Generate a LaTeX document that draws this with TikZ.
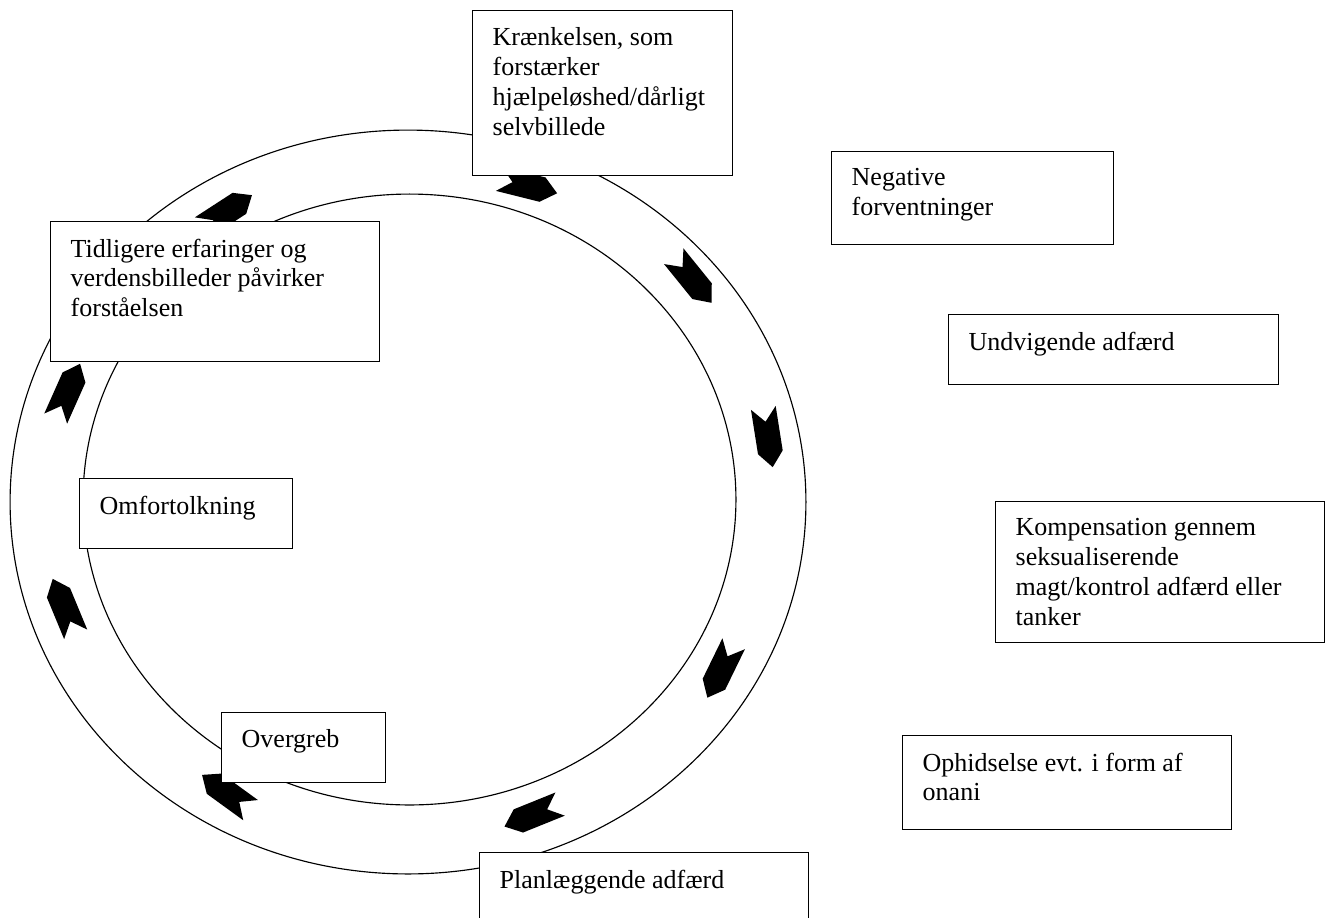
\documentclass[tikz,border=0pt]{standalone}
\usepackage{fontspec}
\setmainfont{Liberation Serif}
\usetikzlibrary{arrows.meta,positioning}

\begin{document}
\begin{tikzpicture}[
            x = 0.02cm, y = -0.02cm, % one unit = one pixel of the sketch
            ring/.style = {draw = black, line width = 0.65pt}, % the two ellipses
            chevron/.pic = {
                \fill[black] (-30,-12.5) -- (15,-12.5) -- (30,0) -- (15,12.5) -- (-30,12.5) -- (-16,0) -- cycle;
            }
        ]

        \tikzstyle{boks}=[
            draw = black,
            line width = 0.8pt,
            fill = white,
            anchor = north west,
            inner xsep = 0.4cm,
            inner ysep = 0.34cm,
            font = \fontsize{14.8pt}{17pt}\selectfont
        ]

        \useasboundingbox (0,0) rectangle (1327,917);
        \clip (0,0) rectangle (1327,917);

        % Ring
        \draw[ring] (408,502) ellipse [x radius = 7.96cm, y radius = 7.44cm];
        \draw[ring] (409.5,499.5) ellipse [x radius = 6.53cm, y radius = 6.11cm];

        % Arrows along the ring
        \pic[rotate = -14] at (528,186) {chevron};
        \pic[rotate = -51] at (692.6,279.5) {chevron};
        \pic[rotate = -81] at (768,437.5) {chevron};
        \pic[rotate = -116] at (720.5,670.7) {chevron};
        \pic[rotate = -158] at (532.3,815.3) {chevron};
        \pic[rotate = 144] at (226.3,792.5) {chevron};
        \pic[rotate = 112.5] at (64.2,606.6) {chevron};
        \pic[rotate = 66] at (67.9,391.2) {chevron};
        \pic[rotate = 33] at (226.8,211.5) {chevron};

        % Blocks
        \node[boks] (kraenk) [at={(472,10)}] {\parbox[t][2.62cm][t]{4.4cm}{Krænkelsen, som\\forstærker\\hjælpeløshed/dårligt\\selvbillede}};
        \node[boks] (neg) [at={(831,151)}] {\parbox[t][1.18cm][t]{4.84cm}{Negative\\forventninger}};
        \node[boks] (undv) [at={(948,314)}] {\parbox[t][0.72cm][t]{5.8cm}{Undvigende adfærd}};
        \node[boks] (komp) [at={(995,501)}] {\parbox[t][2.14cm][t]{5.78cm}{Kompensation gennem\\seksualiserende\\magt/kontrol adfærd eller\\tanker}};
        \node[boks] (ophid) [at={(902,735)}] {\parbox[t][1.2cm][t]{5.78cm}{Ophidselse evt. i form af\\onani}};
        \node[boks] (plan) [at={(479,852)}] {\parbox[t][0.92cm][t]{5.78cm}{Planlæggende adfærd}};
        \node[boks] (overgr) [at={(221,712)}] {\parbox[t][0.72cm][t]{2.48cm}{Overgreb}};
        \node[boks] (omfort) [at={(79,478)}] {\parbox[t][0.72cm][t]{3.46cm}{Omfortolkning}};
        \node[boks] (tidl) [at={(50,221)}] {\parbox[t][2.12cm][t]{5.78cm}{Tidligere erfaringer og\\verdensbilleder påvirker\\forståelsen}};
      \end{tikzpicture}
\end{document}
